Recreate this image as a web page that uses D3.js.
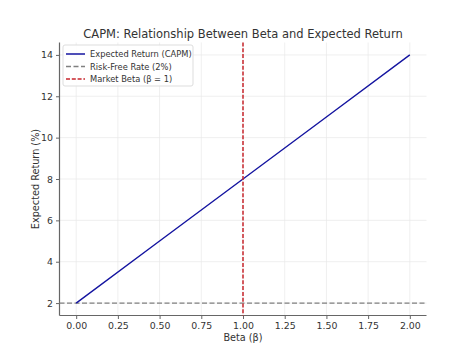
<!DOCTYPE html>
<html><head><meta charset="utf-8">
<script src="https://cdn.jsdelivr.net/npm/d3@7"></script>
<style>body{margin:0;background:#fff}svg{display:block}text{font-family:"DejaVu Sans",sans-serif}</style>
</head><body><svg id="c" width="474" height="355"></svg>
<script>
const betas = [0, 0.5, 1, 1.5, 2];
const returns = [2, 5, 8, 11, 14];
const riskFree = 2;
const marketBeta = 1;
const xTicks = [0, 0.25, 0.5, 0.75, 1, 1.25, 1.5, 1.75, 2];
const yTicks = [2, 4, 6, 8, 10, 12, 14];
const legendLabels = ["Expected Return (CAPM)", "Risk-Free Rate (2%)", "Market Beta (β = 1)"];

const svg = d3.select("#c");
const L = 59.5, R = 426.5, T = 42.5, B = 315.5;
const x = d3.scaleLinear().domain([-0.1, 2.1]).range([L, R]);
const y = d3.scaleLinear().domain([1.4, 14.6]).range([B, T]);
const ink = "#333";

// grid
const g = svg.append("g");
g.selectAll(".gx").data(xTicks).join("line").attr("x1", d => x(d)).attr("x2", d => x(d))
  .attr("y1", T).attr("y2", B).attr("stroke", "#e8e8e8").attr("stroke-width", 0.7);
g.selectAll(".gy").data(yTicks).join("line").attr("y1", d => y(d)).attr("y2", d => y(d))
  .attr("x1", L).attr("x2", R).attr("stroke", "#e8e8e8").attr("stroke-width", 0.7);

// axes
const xa = svg.append("g").attr("transform", `translate(0,${B})`)
  .call(d3.axisBottom(x).tickValues(xTicks).tickFormat(d3.format(".2f")).tickSize(3.5).tickPadding(3));
const ya = svg.append("g").attr("transform", `translate(${L},0)`)
  .call(d3.axisLeft(y).tickValues(yTicks).tickSize(3.5).tickPadding(3));
[xa, ya].forEach(a => {
  a.select(".domain").attr("stroke", "#666").attr("stroke-width", 1.2);
  a.selectAll(".tick line").attr("stroke", "#666");
  a.selectAll(".tick text").attr("fill", ink).attr("font-size", 9.4).style("font-family", "DejaVu Sans");
});
xa.select(".domain").attr("d", `M${L},0H${R}`);
ya.select(".domain").attr("d", `M0,${B}V${T}`);

// lines
const line = d3.line().x((d, i) => x(betas[i])).y(d => y(d));
svg.append("line").attr("x1", L).attr("x2", R).attr("y1", y(riskFree)).attr("y2", y(riskFree))
  .attr("stroke", "#808080").attr("stroke-width", 1.3).attr("stroke-dasharray", "5,2.5");
svg.append("path").datum(returns).attr("d", line).attr("fill", "none")
  .attr("stroke", "#1414a0").attr("stroke-width", 1.4);
svg.append("line").attr("x1", x(marketBeta)).attr("x2", x(marketBeta)).attr("y1", T).attr("y2", B)
  .attr("stroke", "#c8262c").attr("stroke-width", 1.5).attr("stroke-dasharray", "4,1.8");

// title and labels
svg.append("text").attr("x", (L + R) / 2).attr("y", 38).attr("text-anchor", "middle")
  .attr("font-size", 11.5).attr("fill", ink).text("CAPM: Relationship Between Beta and Expected Return");
svg.append("text").attr("x", (L + R) / 2).attr("y", 341).attr("text-anchor", "middle")
  .attr("font-size", 9.7).attr("fill", ink).text("Beta (β)");
svg.append("text").attr("transform", `translate(38.5,${(T + B) / 2}) rotate(-90)`).attr("text-anchor", "middle")
  .attr("font-size", 9.7).attr("fill", ink).text("Expected Return (%)");

// legend
const lg = svg.append("g").attr("transform", "translate(63,45)");
lg.append("rect").attr("width", 130).attr("height", 41).attr("rx", 2).attr("fill", "#fff")
  .attr("fill-opacity", 0.85).attr("stroke", "#ddd");
const lstyles = [{c: "#1414a0", d: null}, {c: "#808080", d: "5,2.5"}, {c: "#c8262c", d: "4,1.8"}];
legendLabels.forEach((t, i) => {
  const yy = 9 + i * 12.5;
  lg.append("line").attr("x1", 3).attr("x2", 22).attr("y1", yy).attr("y2", yy)
    .attr("stroke", lstyles[i].c).attr("stroke-width", 1.5).attr("stroke-dasharray", lstyles[i].d);
  lg.append("text").attr("x", 27).attr("y", yy + 3).attr("font-size", 8.3).attr("fill", ink).text(t);
});
</script></body></html>
